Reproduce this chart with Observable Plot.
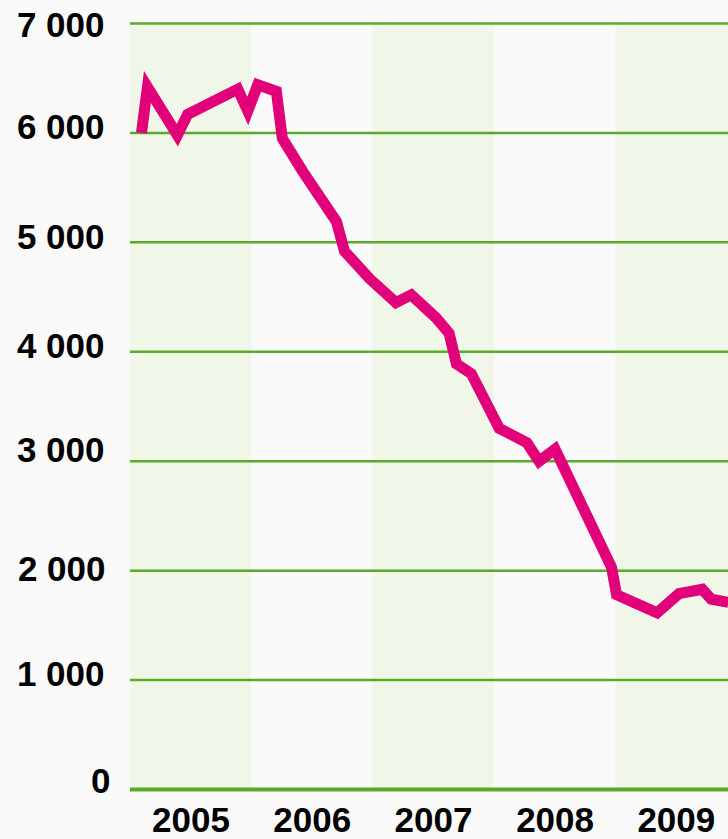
<!DOCTYPE html>
<html>
<head>
<meta charset="utf-8">
<script src="https://cdn.jsdelivr.net/npm/d3@7"></script>
<script src="https://cdn.jsdelivr.net/npm/@observablehq/plot@0.6"></script>
<style>
  html, body { margin: 0; padding: 0; background: #fafafa; overflow: hidden; }
  #chart svg { display: block; }
</style>
</head>
<body>
<div id="chart"></div>
<script>
const dates = [
  "2005-02-03","2005-02-21","2005-05-22","2005-06-22","2005-11-20","2005-12-20",
  "2006-01-19","2006-03-16","2006-04-03","2006-06-03","2006-09-13","2006-10-07","2006-12-21",
  "2007-03-11","2007-04-26","2007-07-10","2007-08-18","2007-09-09","2007-10-24",
  "2008-01-16","2008-04-08","2008-05-15","2008-07-02","2008-12-19",
  "2009-01-03","2009-05-05","2009-07-10","2009-09-18","2009-10-15","2009-12-06"
];
const values = [
  6000, 6420, 5980, 6170, 6400, 6200,
  6440, 6380, 5950, 5650, 5190, 4920, 4670,
  4450, 4520, 4310, 4170, 3890, 3800,
  3300, 3170, 3000, 3110, 2030,
  1780, 1615, 1790, 1830, 1740, 1710
];
const bandYears = [2005, 2007, 2009];
const xYears = [2005, 2006, 2007, 2008, 2009];
const yTicks = [1000, 2000, 3000, 4000, 5000, 6000, 7000];

const data = dates.map((d, i) => ({date: new Date(d), value: values[i]}));
const bands = bandYears.map(y => ({x1: new Date(`${y}-01-01`), x2: new Date(`${y + 1}-01-01`)}));
const yearMid = xYears.map(y => new Date(`${y}-07-02`));

const fmt = d => d3.format(",")(d).replace(/,/g, " ");
const font = "'Liberation Sans', Arial, sans-serif";
const axisText = {tickSize: 0, tickFormat: fmt, fontSize: 35, fontWeight: "bold", fill: "#000", label: null};

const chart = Plot.plot({
  width: 728,
  height: 839,
  marginLeft: 130,
  marginRight: 0,
  marginTop: 23,
  marginBottom: 50,
  style: {background: "#fafafa", fontFamily: font, color: "#000"},
  x: {type: "utc", domain: [new Date("2005-01-01"), new Date("2009-12-06")]},
  y: {domain: [0, 7000]},
  marks: [
    Plot.rect(bands, {x1: "x1", x2: "x2", y1: 0, y2: 7000, fill: "#f1f7e8"}),
    Plot.ruleY(yTicks, {stroke: "#5aaa2a", strokeWidth: 2.5}),
    Plot.ruleY([0], {stroke: "#5aaa2a", strokeWidth: 4}),
    Plot.line(data, {x: "date", y: "value", stroke: "#e2007a", strokeWidth: 11, strokeLinejoin: "miter", strokeLinecap: "butt", strokeMiterlimit: 4}),
    Plot.axisY({...axisText, ticks: [7000], tickPadding: 26, dy: 2}),
    Plot.axisY({...axisText, ticks: [1000, 4000, 5000, 6000], tickPadding: 26, dy: -5}),
    Plot.axisY({...axisText, ticks: [3000], tickPadding: 26, dy: -10}),
    Plot.axisY({...axisText, ticks: [2000], tickPadding: 25, dy: -1}),
    Plot.axisY({...axisText, ticks: [0], tickPadding: 20, dy: -8}),
    Plot.axisX({tickSize: 0, ticks: yearMid, tickPadding: 18, tickFormat: d => String(d.getUTCFullYear()), fontSize: 35, fontWeight: "bold", fill: "#000", label: null})
  ]
});
document.getElementById("chart").appendChild(chart);
</script>
</body>
</html>
